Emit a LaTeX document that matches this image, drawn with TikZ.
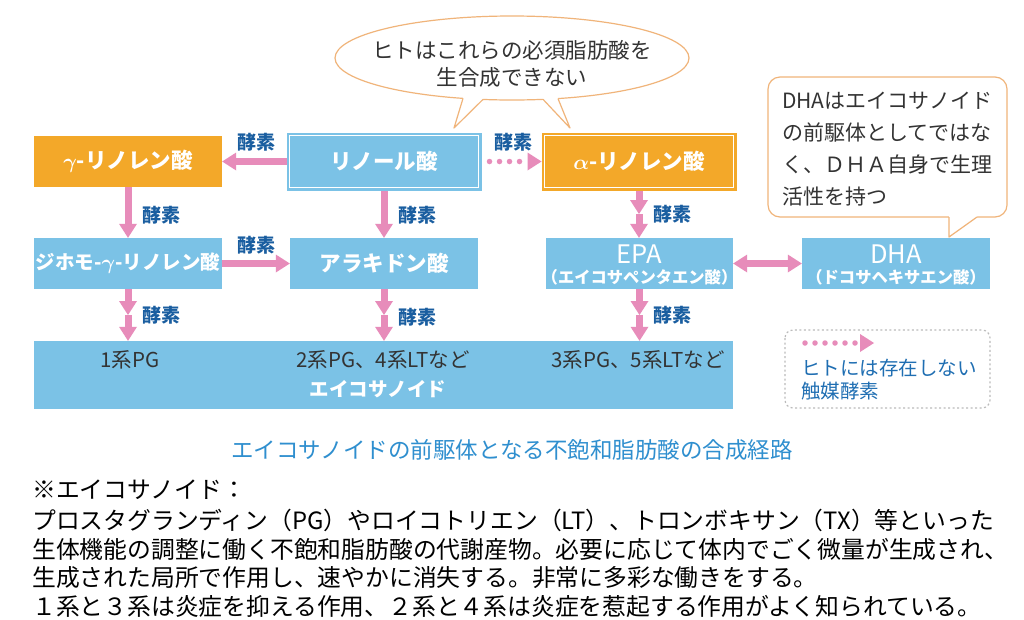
\documentclass[tikz,border=0pt]{standalone}
\usepackage{fontspec}
\setmainfont{Noto Sans CJK JP}
\usetikzlibrary{arrows.meta}
\definecolor{cblue}{HTML}{7BC2E6}
\definecolor{corange}{HTML}{F3A829}
\definecolor{cpink}{HTML}{E78CBA}
\definecolor{cdark}{HTML}{1A5EA0}
\definecolor{cbubble}{HTML}{F0B47A}
\definecolor{ctext}{HTML}{333333}
\definecolor{clegend}{HTML}{1F6EB2}
\definecolor{ccaption}{HTML}{2F8FCF}
\definecolor{cgray}{HTML}{BBBBBB}
\begin{document}
\begin{tikzpicture}[x=1pt,y=-1pt,
  box/.style={inner sep=0pt, text=white, font=\fontsize{21.5}{24}\selectfont\bfseries},
  bluebox/.style={box, fill=cblue},
  orangebox/.style={box, fill=corange},
  parr/.style={draw=cpink, line width=7pt, -{Triangle[length=14pt,width=18pt,line width=0pt]}},
  pdarr/.style={draw=cpink, line width=7pt, {Triangle[length=14pt,width=18pt,line width=0pt]}-{Triangle[length=14pt,width=18pt,line width=0pt]}},
  dotarr/.style={draw=cpink, line width=5.5pt, line cap=round, dash pattern=on 0pt off 10pt, -{Triangle[length=14pt,width=18pt,line width=0pt]}},
  enz/.style={text=cdark, font=\fontsize{19}{22}\selectfont\bfseries, inner sep=0pt},
  bubble/.style={draw=cbubble, line width=1.2pt},
  dtext/.style={text=ctext, inner sep=0pt},
  wtext/.style={text=white, inner sep=0pt},
  foot/.style={text=black, inner sep=0pt, anchor=west, font=\fontsize{23.8}{26}\selectfont}
]
\useasboundingbox (0,0) rectangle (1024,619);
\fill[white] (0,0) rectangle (1024,619);

% speech bubble (ellipse)
\draw[bubble, fill=white] (512,58) ellipse [x radius=177, y radius=42];
\fill[white] (463,95) -- (463,98.4) -- (454,128) -- (483,99.4) -- (483,95) -- cycle;
\draw[bubble, line join=round] (463,98.4) -- (454,128) -- (483,99.4);
\fill[white] (543,95) -- (543,99.3) -- (570,128) -- (558,98.6) -- (558,95) -- cycle;
\draw[bubble, line join=round] (543,99.3) -- (570,128) -- (558,98.6);
\node[dtext, align=center, font=\fontsize{21.5}{27}\selectfont] (q) at (512,63.5) {ヒトはこれらの必須脂肪酸を\\生合成できない};

% DHA callout
\draw[bubble, fill=white, rounded corners=12pt] (768,77) rectangle (1007,217);
\fill[white] (949,213) -- (949,237) -- (977,217) -- (977,213) -- cycle;
\draw[bubble, line join=round] (949,217) -- (949,237) -- (977,217);
\node[dtext, align=left, anchor=west, font=\fontsize{21}{32}\selectfont] (c) at (782,149) {DHAはエイコサノイド\\の前駆体としてではな\\く、ＤＨＡ自身で生理\\活性を持つ};

% boxes
\node[orangebox, minimum width=188pt, minimum height=51pt] (gam) at (128,161.5) {{\boldmath$\gamma$}-リノレン酸};
\node[bluebox, draw=cblue, line width=1pt, minimum width=194pt, minimum height=57pt] (lin) at (384,161.5) {リノール酸};
\draw[white, line width=1.2pt] ([shift={(3,3)}]lin.north west) rectangle ([shift={(-3,-3)}]lin.south east);
\node[orangebox, draw=corange, line width=1pt, minimum width=194pt, minimum height=57pt] (alp) at (639,161.5) {{\boldmath$\alpha$}-リノレン酸};
\draw[white, line width=1.2pt] ([shift={(3,3)}]alp.north west) rectangle ([shift={(-3,-3)}]alp.south east);

\node[bluebox, minimum width=188pt, minimum height=51pt, font=\fontsize{19.5}{22}\selectfont\bfseries] (dih) at (128,263.5) {ジホモ-{\boldmath$\gamma$}-リノレン酸};
\node[bluebox, minimum width=188pt, minimum height=51pt] (ara) at (384,263.5) {アラキドン酸};
\node[bluebox, minimum width=187pt, minimum height=51pt] (epa) at (639.5,263.5) {};
\node[bluebox, minimum width=188pt, minimum height=51pt] (dha) at (896,263.5) {};
\node[wtext, font=\fontsize{25.5}{26}\selectfont] (epaT) at (639.5,254) {EPA};
\node[wtext, font=\fontsize{16.3}{17}\selectfont\bfseries] (epaS) at (639.5,277) {（エイコサペンタエン酸）};
\node[wtext, font=\fontsize{25.5}{26}\selectfont] (dhaT) at (896,254) {DHA};
\node[wtext, font=\fontsize{16.3}{17}\selectfont\bfseries] (dhaS) at (896,277) {（ドコサヘキサエン酸）};

\node[bluebox, minimum width=699pt, minimum height=68pt] (bot) at (383.5,375) {};
\node[dtext, font=\fontsize{20.5}{22}\selectfont] (p1) at (130,360) {1系PG};
\node[dtext, font=\fontsize{20.5}{22}\selectfont] (p2) at (383,360) {2系PG、4系LTなど};
\node[dtext, font=\fontsize{20.5}{22}\selectfont] (p3) at (638,360) {3系PG、5系LTなど};
\node[wtext, font=\fontsize{19.5}{22}\selectfont\bfseries] (eic) at (378,389) {エイコサノイド};

% arrows
\draw[parr] (lin.west) -- (gam.east);
\draw[dotarr] ([xshift=8pt]lin.east) -- (alp.west);
\draw[parr] (gam.south) -- (dih.north);
\draw[parr] (lin.south) -- (ara.north);
\draw[parr] (dih.east) -- (ara.west);
\draw[pdarr] (epa.east) -- (dha.west);

\coordinate (m0) at (639,214);
\draw[parr] (alp.south) -- (m0);
\draw[parr] (m0) -- (epa.north -| m0);
\coordinate (m1) at (128,315);
\draw[parr] (dih.south) -- (m1);
\draw[parr] (m1) -- (m1 |- bot.north);
\coordinate (m2) at (384,315);
\draw[parr] (ara.south) -- (m2);
\draw[parr] (m2) -- (m2 |- bot.north);
\coordinate (m3) at (639.5,315);
\draw[parr] (epa.south) -- (m3);
\draw[parr] (m3) -- (m3 |- bot.north);

% enzyme labels
\node[enz] (e1) at (256,142) {酵素};
\node[enz] (e2) at (513,142) {酵素};
\node[enz] (e3) at (161,215) {酵素};
\node[enz] (e4) at (417,215) {酵素};
\node[enz] (e5) at (256,245) {酵素};
\node[enz] (e6) at (672,214) {酵素};
\node[enz] (e7) at (161,315) {酵素};
\node[enz] (e8) at (417,317) {酵素};
\node[enz] (e9) at (672,315) {酵素};

% legend
\draw[draw=cgray, line width=1.2pt, dash pattern=on 2pt off 2.5pt, rounded corners=8pt] (785,330) rectangle (990,408);
\coordinate (lg1) at (805,343);
\coordinate (lg2) at (874,343);
\draw[dotarr] (lg1) -- (lg2);
\node[inner sep=0pt, anchor=west, align=left, text=clegend, font=\fontsize{19.5}{23}\selectfont] (lgt) at (801,379.5) {ヒトには存在しない\\触媒酵素};

% caption
\node[inner sep=0pt, text=ccaption, font=\fontsize{22.5}{24}\selectfont] (cap) at (512,450) {エイコサノイドの前駆体となる不飽和脂肪酸の合成経路};

% footnote
\node[foot] (f1) at (32,490) {※エイコサノイド：};
\node[foot] (f2) at (32,520) {プロスタグランディン（PG）やロイコトリエン（LT）、トロンボキサン（TX）等といった};
\node[foot] (f3) at (32,549) {生体機能の調整に働く不飽和脂肪酸の代謝産物。必要に応じて体内でごく微量が生成され、};
\node[foot] (f4) at (32,578) {生成された局所で作用し、速やかに消失する。非常に多彩な働きをする。};
\node[foot] (f5) at (32,606) {１系と３系は炎症を抑える作用、２系と４系は炎症を惹起する作用がよく知られている。};
\end{tikzpicture}
\end{document}
